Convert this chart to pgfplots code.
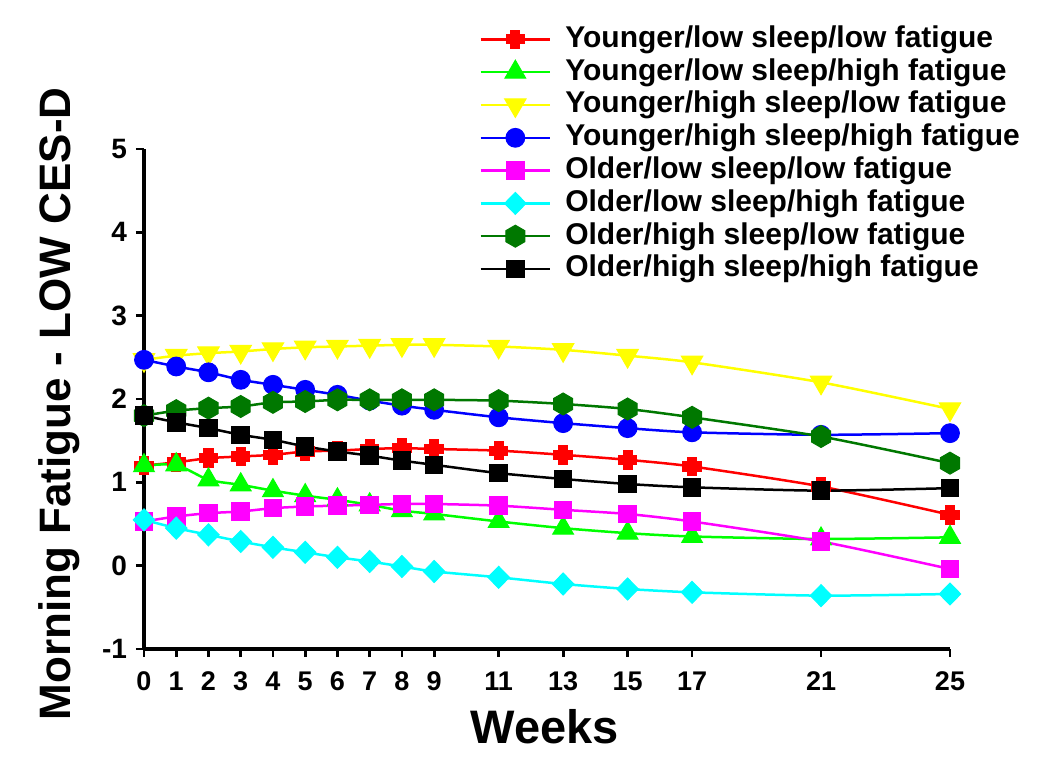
\documentclass[border=0pt]{standalone}
\usepackage{pgfplots}
\pgfplotsset{compat=1.18}
\usepackage{pgfplotstable}
\usepackage{fontspec}
\setmainfont{Liberation Sans}
\usetikzlibrary{calc}

\definecolor{cRed}{RGB}{255,0,0}
\definecolor{cGreen}{RGB}{0,255,0}
\definecolor{cYellow}{RGB}{255,255,0}
\definecolor{cBlue}{RGB}{0,0,255}
\definecolor{cMag}{RGB}{255,0,255}
\definecolor{cCyan}{RGB}{0,255,255}
\definecolor{cDkGreen}{RGB}{0,120,0}

\pgfdeclareplotmark{hexagon*}{%
  \pgfpathmoveto{\pgfqpointpolar{90}{\pgfplotmarksize}}%
  \pgfpathlineto{\pgfqpointpolar{150}{\pgfplotmarksize}}%
  \pgfpathlineto{\pgfqpointpolar{210}{\pgfplotmarksize}}%
  \pgfpathlineto{\pgfqpointpolar{270}{\pgfplotmarksize}}%
  \pgfpathlineto{\pgfqpointpolar{330}{\pgfplotmarksize}}%
  \pgfpathlineto{\pgfqpointpolar{30}{\pgfplotmarksize}}%
  \pgfpathclose
  \pgfusepathqfillstroke}

\pgfdeclareplotmark{fatplus}{%
  \pgfmathsetlengthmacro\pa{\pgfplotmarksize}%
  \pgfmathsetlengthmacro\pb{0.5*\pgfplotmarksize}%
  \pgfpathmoveto{\pgfpoint{-\pb}{\pa}}%
  \pgfpathlineto{\pgfpoint{\pb}{\pa}}%
  \pgfpathlineto{\pgfpoint{\pb}{\pb}}%
  \pgfpathlineto{\pgfpoint{\pa}{\pb}}%
  \pgfpathlineto{\pgfpoint{\pa}{-\pb}}%
  \pgfpathlineto{\pgfpoint{\pb}{-\pb}}%
  \pgfpathlineto{\pgfpoint{\pb}{-\pa}}%
  \pgfpathlineto{\pgfpoint{-\pb}{-\pa}}%
  \pgfpathlineto{\pgfpoint{-\pb}{-\pb}}%
  \pgfpathlineto{\pgfpoint{-\pa}{-\pb}}%
  \pgfpathlineto{\pgfpoint{-\pa}{\pb}}%
  \pgfpathlineto{\pgfpoint{-\pb}{\pb}}%
  \pgfpathclose
  \pgfusepathqfillstroke}

\pgfplotstableread{
x  red   green  yellow blue  mag    cyan   dkgreen black
0  1.20  1.20   2.47   2.47  0.53   0.55   1.80    1.80
1  1.24  1.21   2.52   2.39  0.59   0.45   1.86    1.72
2  1.29  1.03   2.55   2.32  0.63   0.37   1.89    1.65
3  1.31  0.97   2.57   2.23  0.65   0.29   1.91    1.57
4  1.33  0.90   2.60   2.17  0.69   0.22   1.96    1.51
5  1.37  0.84   2.62   2.11  0.71   0.16   1.97    1.43
6  1.38  0.79   2.63   2.05  0.72   0.10   1.99    1.37
7  1.40  0.73   2.64   1.98  0.73   0.05   1.99    1.32
8  1.41  0.66   2.65   1.92  0.74   -0.01  1.99    1.26
9  1.40  0.62   2.65   1.87  0.74   -0.07  1.99    1.21
11 1.38  0.53   2.63   1.78  0.72   -0.14  1.98    1.11
13 1.33  0.45   2.59   1.71  0.67   -0.22  1.94    1.04
15 1.27  0.39   2.52   1.65  0.62   -0.28  1.88    0.98
17 1.19  0.35   2.44   1.60  0.53   -0.32  1.78    0.94
21 0.95  0.32   2.20   1.57  0.29   -0.36  1.55    0.90
25 0.61  0.34   1.88   1.59  -0.04  -0.34  1.23    0.93
}\datatable

\begin{document}
\begin{tikzpicture}
\begin{axis}[
  name=ax,
  scale only axis,
  width=403pt, height=250pt,
  xmin=0, xmax=25, ymin=-1, ymax=5,
  clip=false,
  axis x line=bottom, axis y line=left,
  axis line style={-, line width=1.6pt},
  tick style={line width=1.4pt, black},
  tick align=outside,
  major tick length=4pt,
  xtick={0,1,2,3,4,5,6,7,8,9,11,13,15,17,21,25},
  ytick={-1,0,1,2,3,4,5},
  /pgf/number format/assume math mode=true,
  xticklabel style={font=\fontsize{13.5}{15}\selectfont\bfseries, yshift=-4pt},
  yticklabel style={font=\fontsize{14}{16}\selectfont\bfseries, xshift=-1pt},
  xlabel={Weeks},
  ylabel={Morning Fatigue - LOW CES-D},
  xlabel style={font=\fontsize{23.5}{26}\selectfont\bfseries, at={(axis description cs:0.4975,-0.155)}, anchor=center},
  ylabel style={font=\fontsize{22}{24}\selectfont\bfseries, at={(axis description cs:-0.105,0.49)}, anchor=center},
  legend style={draw=none, fill=none, at={(0.4156,1.252)}, anchor=north west,
    inner sep=0pt, row sep=0.4pt,
    font=\fontsize{15}{16}\selectfont\bfseries,
    nodes={text height=11pt, text depth=3pt, inner sep=1pt},
    column sep=6pt},
  legend cell align=left,
  legend image code/.code={%
    \draw[mark repeat=2,mark phase=2] plot coordinates {(0cm,0cm) (0.61cm,0cm) (1.22cm,0cm)};},
  every axis plot/.append style={line width=1.25pt, smooth, tension=0.4},
]
\addplot[color=cRed, mark=fatplus, mark size=4.6pt, mark options={solid, fill=cRed, line width=0.5pt}] table[x=x, y=red] {\datatable};
\addlegendentry{Younger/low sleep/low fatigue}
\addplot[color=cGreen, mark=triangle*, mark size=6pt, mark options={solid, fill=cGreen, line width=0.5pt}] table[x=x, y=green] {\datatable};
\addlegendentry{Younger/low sleep/high fatigue}
\addplot[color=cYellow, mark=triangle*, mark size=6.2pt, mark options={solid, fill=cYellow, rotate=180, line width=0.5pt}] table[x=x, y=yellow] {\datatable};
\addlegendentry{Younger/high sleep/low fatigue}
\addplot[color=cBlue, mark=*, mark size=4.7pt, mark options={solid, fill=cBlue, line width=0.5pt}] table[x=x, y=blue] {\datatable};
\addlegendentry{Younger/high sleep/high fatigue}
\addplot[color=cMag, mark=square*, mark size=4.4pt, mark options={solid, fill=cMag, line width=0.5pt}] table[x=x, y=mag] {\datatable};
\addlegendentry{Older/low sleep/low fatigue}
\addplot[color=cCyan, mark=diamond*, mark size=5.5pt, mark options={solid, fill=cCyan, xscale=1.3, line width=0.5pt}] table[x=x, y=cyan] {\datatable};
\addlegendentry{Older/low sleep/high fatigue}
\addplot[color=cDkGreen, mark=hexagon*, mark size=5.5pt, mark options={solid, fill=cDkGreen, line width=0.5pt}] table[x=x, y=dkgreen] {\datatable};
\addlegendentry{Older/high sleep/low fatigue}
\addplot[color=black, mark=square*, mark size=4.4pt, mark options={solid, fill=black, line width=0.5pt}] table[x=x, y=black] {\datatable};
\addlegendentry{Older/high sleep/high fatigue}
\end{axis}
\useasboundingbox ($(ax.south west)+(-72pt,-62pt)$) rectangle ($(ax.north east)+(50pt,74.5pt)$);
\end{tikzpicture}
\end{document}
